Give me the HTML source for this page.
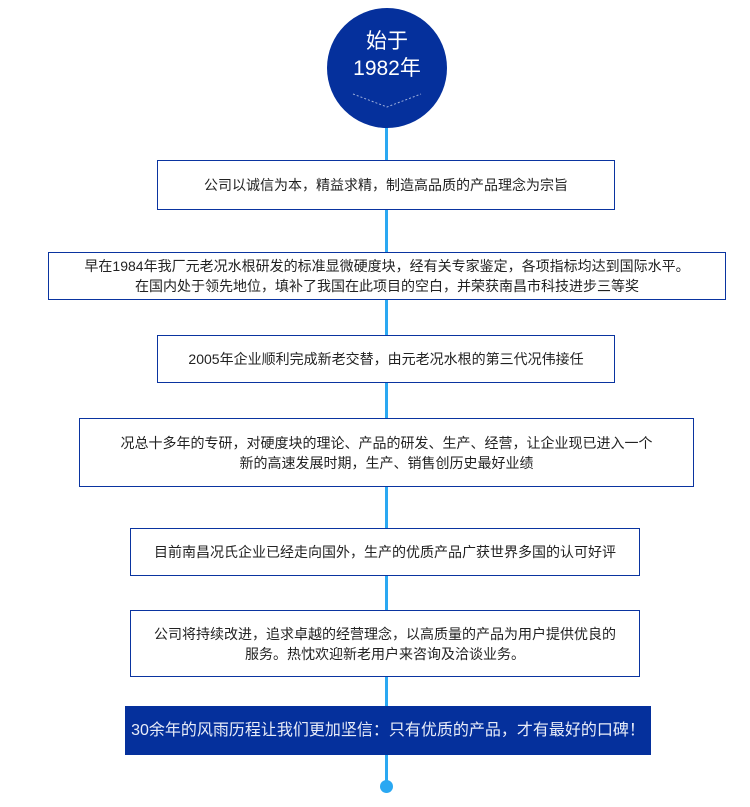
<!DOCTYPE html>
<html><head><meta charset="utf-8"><style>
body{margin:0;width:750px;height:807px;background:#fff;position:relative;overflow:hidden;font-family:"Liberation Sans","Noto Sans CJK SC",sans-serif;}
.line{position:absolute;left:385px;top:120px;width:3px;height:665px;background:#2aa8f2;}
.dot{position:absolute;left:380px;top:780px;width:13px;height:13px;border-radius:50%;background:#2aa8f2;}
.circle{position:absolute;left:327px;top:8px;width:120px;height:120px;border-radius:50%;background:#05309c;color:#fff;text-align:center;font-size:21px;line-height:27px;}
.box{position:absolute;box-sizing:border-box;border:1px solid #0a34a0;background:#fff;color:#222;font-size:14px;line-height:20px;text-align:center;display:flex;align-items:center;justify-content:center;}
.fill{background:#05309c;color:#e8ecf8;border:none;font-size:16px;}
</style></head><body>
<div class="line"></div>
<div class="dot"></div>
<div class="circle"><div style="margin-top:20px">始于</div><div>1982年</div>
<svg width="120" height="30" style="position:absolute;left:0;top:78px"><polyline points="26,8 60,21 94,8" fill="none" stroke="#9fb0dc" stroke-width="1" stroke-dasharray="2,2"/></svg></div>
<div class="box" style="left:157px;top:160px;width:458px;height:50px">公司以诚信为本，精益求精，制造高品质的产品理念为宗旨</div>
<div class="box" style="left:48px;top:252px;width:678px;height:48px">早在1984年我厂元老况水根研发的标准显微硬度块，经有关专家鉴定，各项指标均达到国际水平。<br>在国内处于领先地位，填补了我国在此项目的空白，并荣获南昌市科技进步三等奖</div>
<div class="box" style="left:157px;top:335px;width:458px;height:48px">2005年企业顺利完成新老交替，由元老况水根的第三代况伟接任</div>
<div class="box" style="left:79px;top:418px;width:615px;height:69px">况总十多年的专研，对硬度块的理论、产品的研发、生产、经营，让企业现已进入一个<br>新的高速发展时期，生产、销售创历史最好业绩</div>
<div class="box" style="left:130px;top:528px;width:510px;height:48px">目前南昌况氏企业已经走向国外，生产的优质产品广获世界多国的认可好评</div>
<div class="box" style="left:130px;top:610px;width:510px;height:67px">公司将持续改进，追求卓越的经营理念，以高质量的产品为用户提供优良的<br>服务。热忱欢迎新老用户来咨询及洽谈业务。</div>
<div class="box fill" style="left:125px;top:706px;width:526px;height:49px">30余年的风雨历程让我们更加坚信：只有优质的产品，才有最好的口碑！</div>
</body></html>
